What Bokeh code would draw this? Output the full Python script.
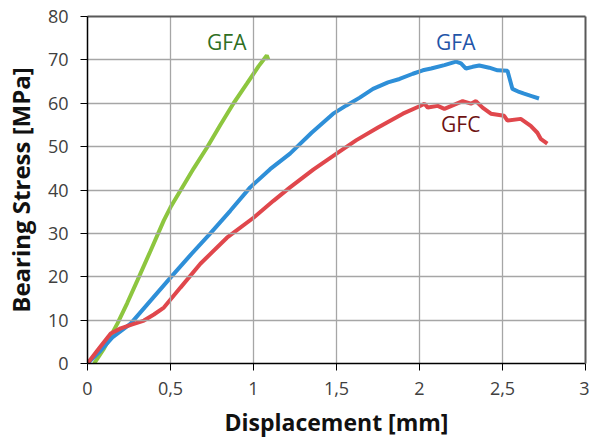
from bokeh.plotting import figure
from bokeh.models import FixedTicker, Label, LinearAxis
from bokeh.embed import file_html
from bokeh.resources import INLINE

# Data
gfa_green_x = [0.04, 0.10, 0.18, 0.24, 0.30, 0.38, 0.46, 0.50, 0.56, 0.64, 0.72, 0.80, 0.88, 0.96, 1.03, 1.08, 1.09]
gfa_green_y = [0.0, 3.5, 9.2, 14.0, 19.1, 26.0, 33.0, 36.0, 39.9, 45.0, 49.8, 55.0, 60.0, 64.5, 68.5, 71.0, 70.0]

gfa_blue_x = [0.0, 0.08, 0.15, 0.26, 0.38, 0.50, 0.62, 0.74, 0.86, 0.98, 1.10, 1.22, 1.35, 1.48, 1.56, 1.64, 1.72, 1.81,
              1.88, 1.96, 2.02, 2.07, 2.15, 2.22, 2.25, 2.28, 2.32, 2.36, 2.42, 2.47, 2.53, 2.56, 2.60, 2.63, 2.68, 2.72]
gfa_blue_y = [0.0, 3.0, 6.0, 9.2, 14.5, 19.8, 25.0, 30.0, 35.2, 40.6, 44.8, 48.4, 53.2, 57.6, 59.5, 61.3, 63.3, 64.8,
              65.6, 66.8, 67.6, 68.0, 68.8, 69.6, 69.2, 68.0, 68.4, 68.7, 68.2, 67.6, 67.5, 63.3, 62.6, 62.2, 61.6, 61.1]

gfc_x = [0.0, 0.07, 0.14, 0.20, 0.27, 0.34, 0.40, 0.46, 0.56, 0.68, 0.84, 1.00, 1.12, 1.22, 1.36, 1.50, 1.62, 1.75,
         1.90, 2.00, 2.03, 2.05, 2.11, 2.15, 2.20, 2.26, 2.31, 2.34, 2.38, 2.43, 2.51, 2.53, 2.61, 2.67, 2.71, 2.73, 2.77]
gfc_y = [0.0, 3.5, 6.9, 8.1, 9.0, 9.9, 11.3, 12.9, 17.5, 23.0, 29.0, 33.6, 37.5, 40.6, 44.7, 48.4, 51.5, 54.4,
         57.6, 59.3, 59.9, 59.0, 59.4, 58.7, 59.5, 60.5, 59.9, 60.5, 59.0, 57.6, 57.1, 56.0, 56.4, 54.8, 53.2, 51.8, 50.7]

x_ticks = [0, 0.5, 1, 1.5, 2, 2.5, 3]
x_tick_labels = ["0", "0,5", "1", "1,5", "2", "2,5", "3"]
y_ticks = [0, 10, 20, 30, 40, 50, 60, 70, 80]

FONT = "Open Sans"

p = figure(width=589, height=441, output_backend="svg", toolbar_location=None,
           x_range=(0, 3), y_range=(0, 80),
           min_border_left=87, min_border_right=4, min_border_top=16, min_border_bottom=78)
p.outline_line_color = None

p.xgrid.ticker = FixedTicker(ticks=x_ticks[1:-1])
p.ygrid.ticker = FixedTicker(ticks=y_ticks[1:-1])
p.grid.grid_line_color = "#a6a6a6"
p.grid.grid_line_width = 1.3
p.grid.grid_line_alpha = 1.0
p.grid.level = "glyph"

bottom_axis = p.below[0]
left_axis = p.left[0]

# darker frame lines at the top and right (bare axes without ticks)
for side in ("above", "right"):
    fa = LinearAxis(ticker=FixedTicker(ticks=[]), axis_line_color="#595959", axis_line_width=2,
                    major_tick_line_color=None, minor_tick_line_color=None)
    p.add_layout(fa, side)

p.line(gfa_green_x, gfa_green_y, line_color="#8dc63f", line_width=4)
p.line(gfa_blue_x, gfa_blue_y, line_color="#2e8fd8", line_width=4)
p.line(gfc_x, gfc_y, line_color="#e0474c", line_width=4)

for txt, x, y, col in [("GFA", 0.72, 71.0, "#2f6f1f"), ("GFA", 2.10, 71.0, "#1f55a8"), ("GFC", 2.13, 52.1, "#6e1212")]:
    p.add_layout(Label(x=x, y=y, text=txt, text_color=col, text_font=FONT, text_font_size="21px"))

bottom_axis.ticker = FixedTicker(ticks=x_ticks)
bottom_axis.major_label_overrides = {t: l for t, l in zip(x_ticks, x_tick_labels)}
left_axis.ticker = FixedTicker(ticks=y_ticks)

for ax in (bottom_axis, left_axis):
    ax.axis_line_color = "black"
    ax.axis_line_width = 1.5
    ax.major_tick_line_color = "black"
    ax.major_tick_out = 7
    ax.major_tick_in = 0
    ax.minor_tick_line_color = None
    ax.major_label_text_font = FONT
    ax.major_label_text_font_size = "18px"
    ax.major_label_text_color = "#404040"
    ax.axis_label_text_font = FONT
    ax.axis_label_text_font_style = "bold"
    ax.axis_label_text_color = "#111111"

bottom_axis.axis_label = "Displacement [mm]"
bottom_axis.axis_label_text_font_size = "23px"
bottom_axis.major_label_standoff = 11
bottom_axis.axis_label_standoff = 8
left_axis.axis_label = "Bearing Stress [MPa]"
left_axis.axis_label_text_font_size = "24px"
left_axis.major_label_standoff = 12
left_axis.axis_label_standoff = 8

open("out.html", "w").write(file_html(p, INLINE))
